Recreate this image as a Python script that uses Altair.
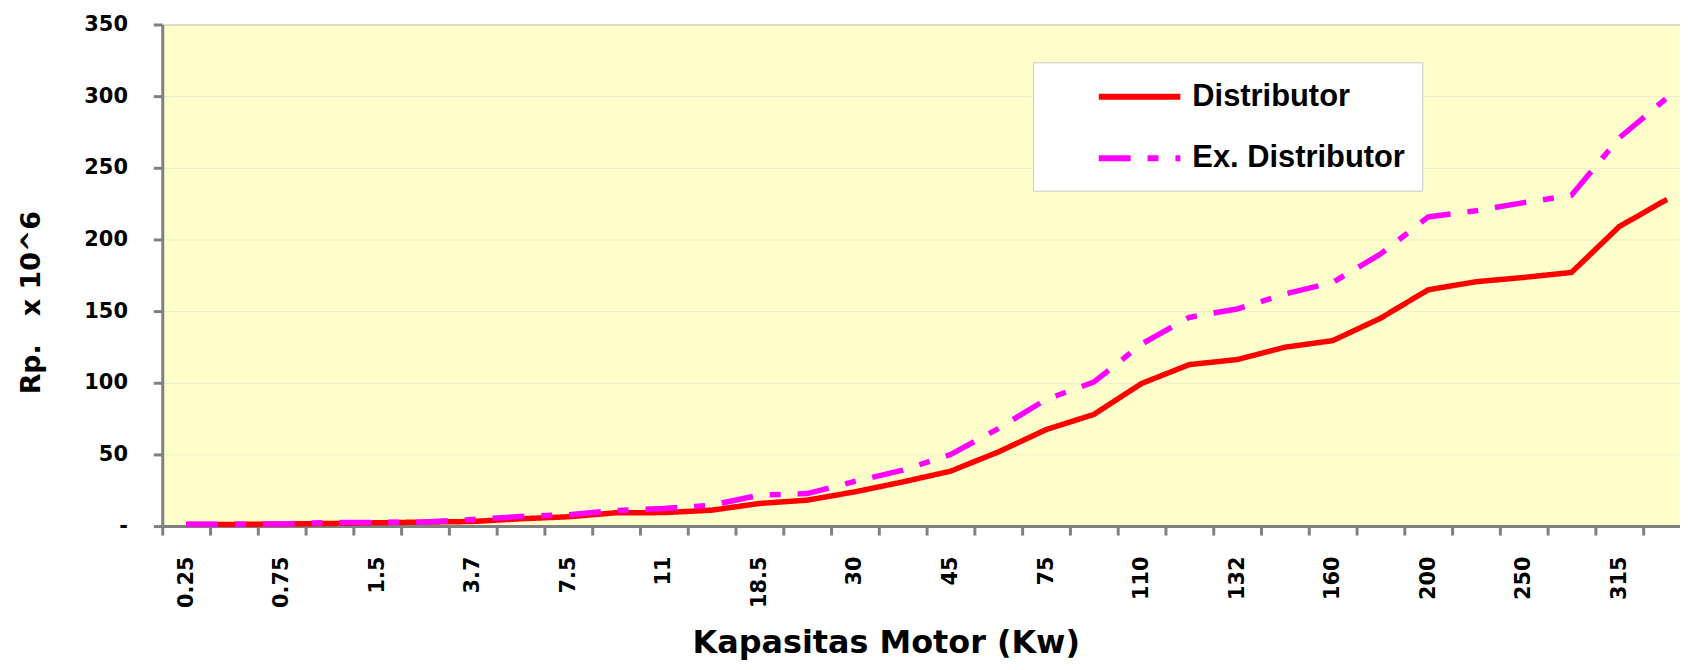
import json
import altair as alt
import pandas as pd

# ---- data ----
categories = ["0.25", "0.55", "0.75", "1.1", "1.5", "2.2", "3.7", "5.5", "7.5", "9.2",
              "11", "15", "18.5", "22", "30", "37", "45", "55", "75", "90",
              "110", "125", "132", "150", "160", "185", "200", "220", "250", "280",
              "315", "355"]
shown_labels = ["0.25", "0.75", "1.5", "3.7", "7.5", "11", "18.5", "30", "45", "75",
                "110", "132", "160", "200", "250", "315"]
distributor = [1.2, 1.2, 1.5, 1.8, 2.3, 2.8, 3.2, 5.1, 6.5, 9.3,
               9.4, 11.1, 15.8, 18.1, 23.9, 30.8, 38.3, 51.7, 67.3, 77.9,
               99.5, 112.7, 116.2, 124.8, 129.4, 145.0, 164.9, 170.5, 173.5, 177.0,
               209.0, 228.0]
ex_distributor = [1.3, 1.3, 1.5, 2.5, 2.6, 2.8, 4.6, 6.7, 7.9, 10.9,
                  12.3, 14.6, 21.6, 22.7, 31.2, 39.0, 49.9, 68.0, 88.4, 100.4,
                  127.0, 145.7, 151.5, 161.9, 170.0, 189.8, 215.7, 220.0, 225.7, 230.8,
                  270.9, 298.8]
series_names = ["Distributor", "Ex. Distributor"]
y_ticks = [0, 50, 100, 150, 200, 250, 300, 350]

rows = []
for name, vals in zip(series_names, [distributor, ex_distributor]):
    for c, v in zip(categories, vals):
        rows.append({"kw": c, "rp": v, "series": name})
df = pd.DataFrame(rows)

label_expr = "indexof(" + json.dumps(shown_labels) + ", datum.label) >= 0 ? datum.label : ''"

legend = alt.Legend(
    orient="none", legendX=875, legendY=38,
    title="\u00a0" * 731, titleFont="Liberation Sans", titleFontSize=2,
    titleLimit=3000, titlePadding=0,
    padding=17, fillColor="white", strokeColor="#C8C8C8",
    symbolType="stroke", symbolSize=6724, symbolStrokeWidth=6,
    symbolOffset=46, labelOffset=9, clipHeight=31,
    labelFont="Liberation Sans", labelFontSize=31, labelFontWeight="bold",
    labelColor="black", labelLimit=800, rowPadding=30,
)

chart = alt.Chart(df).mark_line(strokeWidth=5.5, strokeCap="butt").encode(
    x=alt.X("kw:N", sort=categories,
            scale=alt.Scale(domain=categories, range=[0, 1536], paddingInner=0, paddingOuter=0),
            axis=alt.Axis(
                title="Kapasitas Motor (Kw)", labelExpr=label_expr,
                labelAngle=270, labelAlign="right", labelBaseline="middle",
                labelOverlap=False, tickBand="extent", tickSize=9, tickWidth=3,
                tickColor="#808080", domainColor="#808080", domainWidth=3,
                labelFont="DejaVu Sans", labelFontSize=21, labelFontWeight="bold",
                labelColor="black", labelPadding=21, labelLimit=300,
                titleFont="DejaVu Sans", titleFontSize=32, titleFontWeight="bold",
                titleColor="black", titleX=727, titleY=127, titleAlign="center",
                titleBaseline="alphabetic", grid=False)),
    y=alt.Y("rp:Q",
            scale=alt.Scale(domain=[0, 350], nice=False, zero=True),
            axis=alt.Axis(
                values=y_ticks, labelExpr="datum.value == 0 ? '-' : datum.label",
                grid=True, gridColor="#EBEBC9", gridWidth=1,
                tickSize=9, tickWidth=3, tickColor="#808080",
                domainColor="#808080", domainWidth=3,
                labelFont="DejaVu Sans", labelFontSize=21, labelFontWeight="bold",
                labelColor="black", labelPadding=26,
                title="Rp.\u00a0\u00a0\u00a0x 10^6", titleAngle=270,
                titleX=-123, titleY=279, titleAlign="center", titleBaseline="alphabetic",
                titleFont="DejaVu Sans", titleFontSize=27, titleFontWeight="bold",
                titleColor="black")),
    color=alt.Color("series:N", sort=series_names,
                    scale=alt.Scale(domain=series_names, range=["#FF0000", "#FF00FF"]),
                    legend=legend),
    strokeDash=alt.StrokeDash("series:N", sort=series_names,
                              scale=alt.Scale(domain=series_names, range=[[1, 0], [32, 17, 11, 17]]),
                              legend=legend),
    order=alt.Order("series:N"),
).properties(
    width=1525, height=504,
    autosize=alt.AutoSizeParams(type="none"),
    padding={"left": 155, "top": 15, "right": 0, "bottom": 135},
    background="white",
).configure_view(
    fill="#FFFFCC", stroke="#A0A0A0", strokeWidth=1
)

chart.save("out.html", embed_options={"renderer": "svg", "actions": False})
